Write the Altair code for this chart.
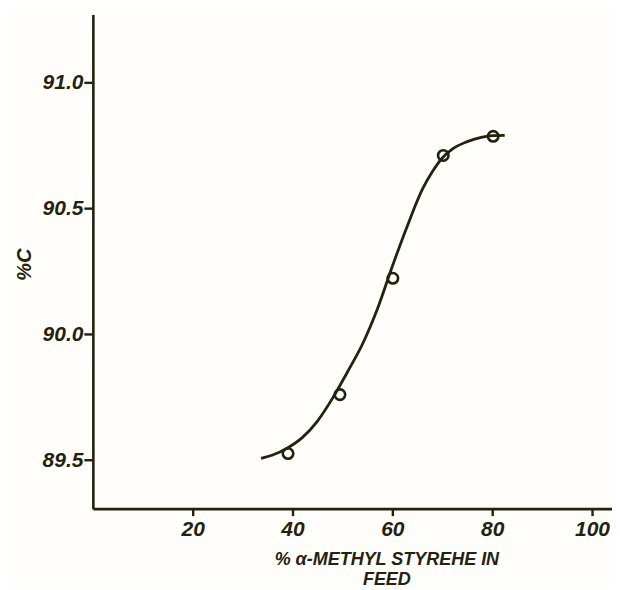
import altair as alt
import pandas as pd

# measured points (% alpha-methyl styrene in feed, %C)
pt_x = [39.1, 49.5, 60.1, 70.2, 80.2]
pt_y = [89.526, 89.760, 90.222, 90.710, 90.786]

# hand-drawn fitted curve
cv_x = [33.7, 36, 39, 42, 45, 48, 51, 54, 57, 60, 63, 66, 68, 70, 72, 75, 78, 80, 82.5]
cv_y = [89.507, 89.52, 89.548, 89.59, 89.655, 89.745, 89.85, 89.96, 90.10, 90.27,
        90.43, 90.575, 90.645, 90.70, 90.735, 90.765, 90.783, 90.789, 90.79]

x_ticks = [20, 40, 60, 80, 100]
y_ticks = [89.5, 90.0, 90.5, 91.0]

INK = "#22220f"
FONT = "Liberation Sans"

pts = pd.DataFrame({"x": pt_x, "y": pt_y})
curve = pd.DataFrame({"x": cv_x, "y": cv_y})

xs = alt.Scale(domain=[0, 104], nice=False, zero=False)
ys = alt.Scale(domain=[89.307, 91.27], nice=False, zero=False)

x_axis = alt.Axis(
    values=x_ticks, format="d", grid=False,
    domainColor=INK, domainWidth=2.6, tickColor=INK, tickWidth=2.4, tickSize=7,
    labelFont=FONT, labelFontSize=21, labelFontWeight="bold", labelFontStyle="italic",
    labelColor=INK, labelPadding=3,
    title=["% \u03b1-METHYL STYREHE IN", "FEED"],
    titleFont=FONT, titleFontSize=18, titleFontWeight="bold", titleFontStyle="italic",
    titleColor=INK, titleX=294, titleY=42, titleAlign="center", titleBaseline="top",
    titleLineHeight=20,
)
y_axis = alt.Axis(
    values=y_ticks, format=".1f", grid=False,
    domainColor=INK, domainWidth=2.6, tickColor=INK, tickWidth=2.4, tickSize=9,
    labelFont=FONT, labelFontSize=21, labelFontWeight="bold", labelFontStyle="italic",
    labelColor=INK, labelPadding=1,
    title="%C", titleFont=FONT, titleFontSize=20, titleFontWeight="bold",
    titleFontStyle="italic", titleColor=INK, titleAngle=270,
    titleX=-68, titleY=250, titleAlign="center", titleBaseline="middle",
)

line = alt.Chart(curve).mark_line(color=INK, strokeWidth=2.8, interpolate="monotone").encode(
    x=alt.X("x:Q", scale=xs, axis=x_axis),
    y=alt.Y("y:Q", scale=ys, axis=y_axis),
)
dots = alt.Chart(pts).mark_point(shape="circle", filled=False, color=INK, opacity=1,
                                 size=110, strokeWidth=2.6).encode(
    x=alt.X("x:Q", scale=xs),
    y=alt.Y("y:Q", scale=ys),
)

chart = (line + dots).properties(
    width=520, height=495,
    autosize=alt.AutoSizeParams(type="none"),
    padding={"left": 85, "top": 6, "right": 0, "bottom": 80},
    background="#fffefa",
).configure_view(stroke=None)

chart.save("out.html", embed_options={"renderer": "svg", "actions": False})
